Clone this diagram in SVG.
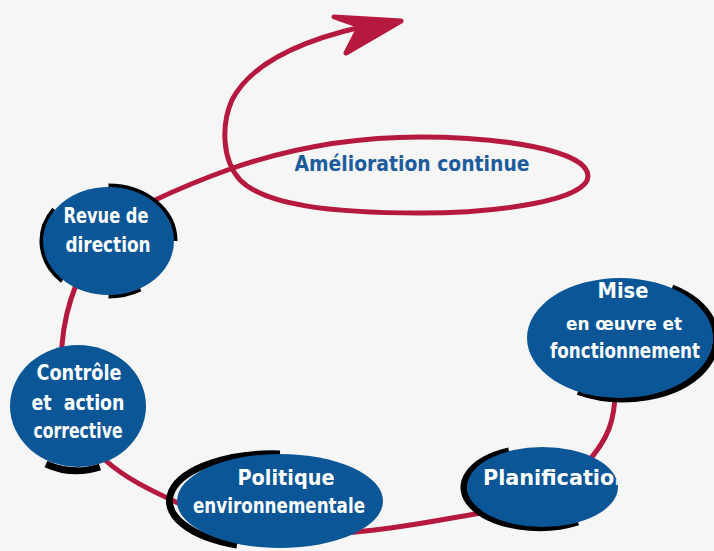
<svg xmlns="http://www.w3.org/2000/svg" width="714" height="551" viewBox="0 0 714 551">
<style>
.bg{fill:#f6f6f6}
.spiral{fill:none;stroke:#b5193d;stroke-width:5;stroke-linecap:round;stroke-linejoin:round}
.head{fill:#b5193d;stroke:#b5193d;stroke-width:5;stroke-linejoin:round;stroke-linecap:round}
.node{fill:#0b5696}
.shadow{fill:none;stroke:#000;stroke-width:7;stroke-linecap:butt}
.lbl{fill:#fff;font-family:"DejaVu Sans Condensed","DejaVu Sans",sans-serif;font-weight:bold;font-size:21px;text-anchor:middle}
.title{fill:#1d5c9c;font-family:"DejaVu Sans Condensed","DejaVu Sans",sans-serif;font-weight:bold;font-size:22px;text-anchor:middle}
</style>
<defs>
<clipPath id="clipPlan"><ellipse cx="542.5" cy="487" rx="75.5" ry="40"/></clipPath>
</defs>
<rect class="bg" x="0" y="0" width="714" height="551"/>
<g id="connectors">
<path class="spiral" d="M 615,385 C 616,420 608,440 585,465 C 560,495 520,508 475,514 C 440,520 400,528 365,531 C 300,540 220,520 178,503 C 150,490 125,478 105,460 C 80,440 60,380 62,345 C 64,320 70,300 76,285 C 95,240 130,215 153,201 C 180,188 205,178 233,168 C 300,145 360,137 420,137 C 500,137 588,150 588,176 C 588,200 500,213 420,213 C 330,213 265,205 240,180 C 222,160 221,125 232,100 C 250,65 300,38 385,22"/>
<path class="head" d="M 401,21 L 334,17 L 360,26 L 346,53 Z"/>
<text class="title" x="412" y="171" textLength="235" lengthAdjust="spacingAndGlyphs">Amélioration continue</text>
</g>
<g id="revue">
<path class="shadow" d="M 108.5,187 A 65.5 54 0 0 1 174,241"/>
<path class="shadow" d="M 55,210 A 65.5 54 0 0 0 63,280"/>
<path class="shadow" d="M 108.5,295 A 65.5 54 0 0 0 140,288"/>
<ellipse class="node" cx="108.5" cy="241" rx="65.5" ry="54"/>
<text class="lbl" x="106" y="223" textLength="85" lengthAdjust="spacingAndGlyphs">Revue de</text>
<text class="lbl" x="108" y="252" textLength="85" lengthAdjust="spacingAndGlyphs">direction</text>
</g>
<g id="controle">
<path class="shadow" d="M 46,464 A 68 61 0 0 0 100,467"/>
<ellipse class="node" cx="78" cy="406" rx="68" ry="61"/>
<text class="lbl" x="79" y="380" textLength="85" lengthAdjust="spacingAndGlyphs">Contrôle</text>
<text class="lbl" x="78" y="410" textLength="93" lengthAdjust="spacingAndGlyphs" xml:space="preserve">et  action</text>
<text class="lbl" x="78" y="438" textLength="89" lengthAdjust="spacingAndGlyphs">corrective</text>
</g>
<g id="politique">
<path class="shadow" d="M 280,454 A 103 47 0 0 0 237,545"/>
<ellipse class="node" cx="280" cy="501" rx="103" ry="47"/>
<text class="lbl" x="286" y="485" textLength="97" lengthAdjust="spacingAndGlyphs">Politique</text>
<text class="lbl" x="279" y="513" textLength="172" lengthAdjust="spacingAndGlyphs">environnementale</text>
</g>
<g id="planification">
<path class="shadow" d="M 509,451 A 75.5 40 0 1 0 578,522"/>
<ellipse class="node" cx="542.5" cy="487" rx="75.5" ry="40"/>
<text class="lbl" x="483" y="485" textLength="146" lengthAdjust="spacingAndGlyphs" style="text-anchor:start" clip-path="url(#clipPlan)">Planification</text>
</g>
<g id="mise">
<path class="shadow" d="M 672,288 A 93 60 0 0 1 578,391.5"/>
<ellipse class="node" cx="620" cy="338" rx="93" ry="60"/>
<text class="lbl" x="623" y="298" textLength="51" lengthAdjust="spacingAndGlyphs">Mise</text>
<text class="lbl" x="624" y="330" textLength="116" lengthAdjust="spacingAndGlyphs" style="font-size:18px">en œuvre et</text>
<text class="lbl" x="625" y="358" textLength="150" lengthAdjust="spacingAndGlyphs">fonctionnement</text>
</g>
</svg>
